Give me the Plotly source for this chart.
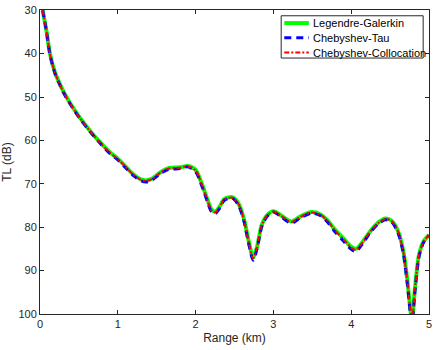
import plotly.graph_objects as go

# Range (km) and transmission loss (dB)
range_km = [0.034, 0.06, 0.085, 0.128, 0.19, 0.25, 0.30, 0.38, 0.51, 0.64, 0.765, 0.89, 1.0,
            1.1, 1.2, 1.3, 1.37, 1.45, 1.55, 1.65, 1.8, 1.9, 2.0, 2.08, 2.15, 2.2, 2.25, 2.3,
            2.37, 2.47, 2.55, 2.62, 2.68, 2.74, 2.79, 2.85, 2.92, 3.0, 3.1, 3.23,
            3.35, 3.49, 3.6, 3.7, 3.78, 3.9, 4.0, 4.06, 4.15, 4.25, 4.35, 4.44,
            4.52, 4.6, 4.67, 4.72, 4.78, 4.82, 4.87, 4.93, 5.0]
tl_galerkin = [30, 32.5, 35, 40, 44.2, 46.8, 48.7, 51.2, 54.7, 57.7, 60.3, 62.6, 64.2,
               66.0, 67.8, 69.0, 69.2, 68.7, 67.3, 66.4, 66.2, 65.9, 66.8, 70.0, 73.5, 75.8, 76.4, 75.5,
               73.5, 73.1, 74.5, 78.0, 83.0, 87.0, 84.5, 79.5, 77.2, 76.3, 77.3, 78.7,
               77.5, 76.5, 77.0, 78.5, 80.3, 82.6, 84.5, 85.0, 83.3, 80.8, 78.9, 78.0,
               78.5, 80.8, 85.5, 92.0, 101.0, 94.0, 86.5, 83.3, 81.8]
tl_tau = [30, 32.5, 35.1, 40.2, 44.4, 47.0, 48.9, 51.4, 54.9, 57.9, 60.5, 62.9, 64.5,
          66.3, 68.1, 69.3, 69.6, 69.0, 67.6, 66.7, 66.5, 66.1, 67.2, 70.5, 74.0, 76.3, 76.9, 75.9,
          73.8, 73.3, 74.9, 78.5, 83.6, 87.6, 84.9, 79.9, 77.5, 76.5, 77.6, 79.1,
          77.8, 76.8, 77.3, 78.9, 80.8, 83.2, 85.1, 85.6, 83.7, 81.1, 79.2, 78.3,
          78.8, 81.2, 86.0, 92.8, 102.0, 94.6, 86.9, 83.5, 81.9]
tl_collocation = [30, 32.5, 35, 40.1, 44.3, 46.9, 48.8, 51.3, 54.8, 57.8, 60.4, 62.7, 64.3,
                  66.1, 67.9, 69.1, 69.3, 68.8, 67.4, 66.5, 66.3, 66.0, 66.9, 70.2, 73.7, 76.0, 76.6, 75.6,
                  73.6, 73.2, 74.6, 78.2, 83.2, 87.2, 84.6, 79.6, 77.3, 76.4, 77.4, 78.8,
                  77.6, 76.6, 77.1, 78.6, 80.5, 82.8, 84.7, 85.2, 83.4, 80.9, 79.0, 78.1,
                  78.6, 80.9, 85.7, 92.3, 101.5, 94.2, 86.6, 83.4, 81.8]
x_ticks = [0, 1, 2, 3, 4, 5]
y_ticks = [30, 40, 50, 60, 70, 80, 90, 100]

series = [
    ("Legendre-Galerkin", tl_galerkin, "#00ff00", 4, "solid"),
    ("Chebyshev-Tau", tl_tau, "#0000ff", 3, "7px,5px"),
    ("Chebyshev-Collocation", tl_collocation, "#ff0000", 2, "5px,2px,2px,2px"),
]

fig = go.Figure()
for name, tl, color, width, dash in series:
    fig.add_trace(go.Scatter(x=range_km, y=tl, mode="lines", name=name, showlegend=False,
                             line=dict(color=color, width=width, dash=dash,
                                       shape="spline", smoothing=0.8)))

# MATLAB-like legend box drawn by hand (tighter rows than plotly's own legend)
fig.add_shape(type="rect", xref="paper", yref="paper", x0=0.620, x1=0.985, y0=0.842, y1=0.981,
              line=dict(color="#262626", width=1), fillcolor="white", layer="above")
row_y = [0.957, 0.909, 0.860]
for (name, tl, color, width, dash), yy in zip(series, row_y):
    fig.add_shape(type="line", xref="paper", yref="paper", x0=0.628, x1=0.691, y0=yy, y1=yy,
                  line=dict(color=color, width=width, dash=dash), layer="above")
    fig.add_annotation(x=0.696, y=yy, xref="paper", yref="paper", text=name, showarrow=False,
                       xanchor="left", yanchor="middle", font=dict(size=11, color="black"))

axis_style = dict(showline=True, linecolor="#262626", linewidth=1, mirror="ticks",
                  ticks="inside", ticklen=4, tickcolor="#262626", showgrid=False,
                  zeroline=False, ticklabeloverflow="allow",
                  tickfont=dict(size=11, color="#262626"))

fig.update_layout(
    width=436, height=350,
    margin=dict(l=40, r=4, t=4, b=36),
    paper_bgcolor="white", plot_bgcolor="white",
    font=dict(family="Liberation Sans, Arial, sans-serif", color="#262626"),
    xaxis=dict(range=[0, 5], tickvals=x_ticks,
               title=dict(text="Range (km)", font=dict(size=12), standoff=4), **axis_style),
    yaxis=dict(range=[100, 29.95], tickvals=y_ticks,
               title=dict(text="TL (dB)", font=dict(size=12), standoff=6), **axis_style),
    showlegend=False,
)

fig.write_html("out.html", config={"displayModeBar": False},
               post_script="document.body.style.margin='0';")
